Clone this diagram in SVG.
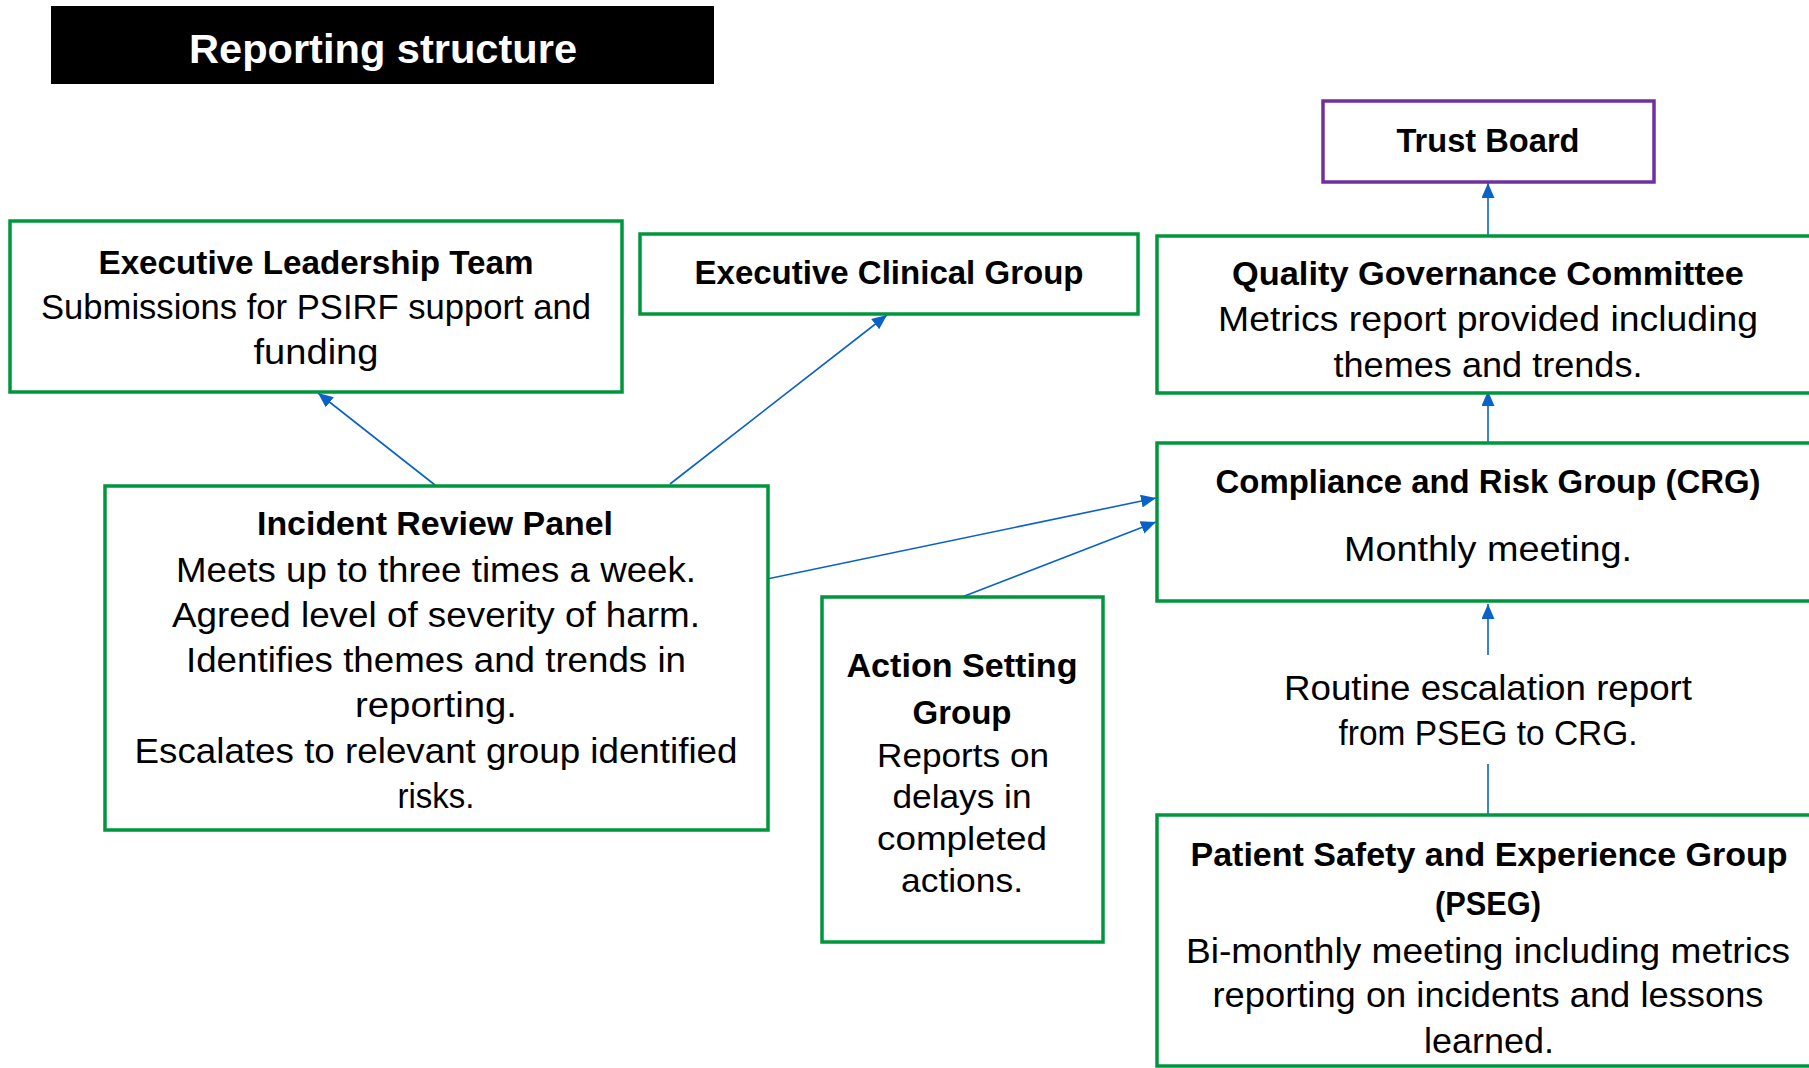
<svg xmlns="http://www.w3.org/2000/svg" width="1809" height="1068" viewBox="0 0 1809 1068">
<style>
.box{fill:#fff;stroke:#00963C;stroke-width:3.5}
.tb{fill:#fff;stroke:#7030A0;stroke-width:3.5}
.t{font-family:"Liberation Sans",Arial,sans-serif;font-size:35px;fill:#000;text-anchor:middle}
.b{font-weight:bold;font-size:34px}
.s{font-size:33px}
.c{stroke:#0A62C8;stroke-width:1.6;fill:none}
.h{font-family:"Liberation Sans",Arial,sans-serif;font-weight:bold;font-size:40px;fill:#fff;text-anchor:middle}
</style>
<defs>
<marker id="ah" markerUnits="userSpaceOnUse" markerWidth="16" markerHeight="14" refX="15" refY="6.5" orient="auto">
<path d="M0,0 L15,6.5 L0,13 z" fill="#0A62C8"/>
</marker>
</defs>
<rect width="1809" height="1068" fill="#fff"/>
<g id="title">
<rect x="51" y="6" width="663" height="78" fill="#000"/>
<text class="h" x="383" y="63" textLength="388" lengthAdjust="spacingAndGlyphs">Reporting structure</text>
</g>
<g id="connectors">
<line class="c" x1="435" y1="485" x2="318" y2="393" marker-end="url(#ah)"/>
<line class="c" x1="670" y1="484" x2="887" y2="315" marker-end="url(#ah)"/>
<line class="c" x1="767" y1="579" x2="1156" y2="498" marker-end="url(#ah)"/>
<line class="c" x1="962" y1="597" x2="1156" y2="522" marker-end="url(#ah)"/>
<line class="c" x1="1488" y1="236" x2="1488" y2="183" marker-end="url(#ah)"/>
<line class="c" x1="1488" y1="443" x2="1488" y2="391" marker-end="url(#ah)"/>
<line class="c" x1="1488" y1="655" x2="1488" y2="604" marker-end="url(#ah)"/>
<line class="c" x1="1488" y1="764" x2="1488" y2="814"/>
</g>
<g id="elt">
<rect class="box" x="10" y="221" width="612" height="171"/>
<text class="t b" x="316" y="274" textLength="435" lengthAdjust="spacingAndGlyphs">Executive Leadership Team</text>
<text class="t" x="316" y="319" textLength="550" lengthAdjust="spacingAndGlyphs">Submissions for PSIRF support and</text>
<text class="t" x="316" y="364" textLength="125" lengthAdjust="spacingAndGlyphs">funding</text>
</g>
<g id="ecg">
<rect class="box" x="640" y="234" width="498" height="80"/>
<text class="t b" x="889" y="284" textLength="389" lengthAdjust="spacingAndGlyphs">Executive Clinical Group</text>
</g>
<g id="trust-board">
<rect class="tb" x="1323" y="101" width="331" height="81"/>
<text class="t b" x="1488" y="152" textLength="183" lengthAdjust="spacingAndGlyphs">Trust Board</text>
</g>
<g id="qgc">
<rect class="box" x="1157" y="236" width="700" height="157"/>
<text class="t b" x="1488" y="285" textLength="512" lengthAdjust="spacingAndGlyphs">Quality Governance Committee</text>
<text class="t" x="1488" y="331" textLength="540" lengthAdjust="spacingAndGlyphs">Metrics report provided including</text>
<text class="t" x="1488" y="377" textLength="309" lengthAdjust="spacingAndGlyphs">themes and trends.</text>
</g>
<g id="crg">
<rect class="box" x="1157" y="443" width="700" height="158"/>
<text class="t b" x="1488" y="493" textLength="545" lengthAdjust="spacingAndGlyphs">Compliance and Risk Group (CRG)</text>
<text class="t" x="1488" y="561" textLength="288" lengthAdjust="spacingAndGlyphs">Monthly meeting.</text>
</g>
<g id="routine-label">
<text class="t" x="1488" y="700" textLength="408" lengthAdjust="spacingAndGlyphs">Routine escalation report</text>
<text class="t" x="1488" y="745" textLength="299" lengthAdjust="spacingAndGlyphs">from PSEG to CRG.</text>
</g>
<g id="pseg">
<rect class="box" x="1157" y="815" width="700" height="251"/>
<text class="t b" x="1489" y="866" textLength="597" lengthAdjust="spacingAndGlyphs">Patient Safety and Experience Group</text>
<text class="t b" x="1488" y="915" textLength="106" lengthAdjust="spacingAndGlyphs">(PSEG)</text>
<text class="t" x="1488" y="963" textLength="604" lengthAdjust="spacingAndGlyphs">Bi-monthly meeting including metrics</text>
<text class="t" x="1488" y="1007" textLength="551" lengthAdjust="spacingAndGlyphs">reporting on incidents and lessons</text>
<text class="t" x="1489" y="1053" textLength="130" lengthAdjust="spacingAndGlyphs">learned.</text>
</g>
<g id="irp">
<rect class="box" x="105" y="486" width="663" height="344"/>
<text class="t b" x="435" y="535" textLength="356" lengthAdjust="spacingAndGlyphs">Incident Review Panel</text>
<text class="t" x="436" y="582" textLength="520" lengthAdjust="spacingAndGlyphs">Meets up to three times a week.</text>
<text class="t" x="436" y="627" textLength="528" lengthAdjust="spacingAndGlyphs">Agreed level of severity of harm.</text>
<text class="t" x="436" y="672" textLength="500" lengthAdjust="spacingAndGlyphs">Identifies themes and trends in</text>
<text class="t" x="436" y="717" textLength="162" lengthAdjust="spacingAndGlyphs">reporting.</text>
<text class="t" x="436" y="763" textLength="603" lengthAdjust="spacingAndGlyphs">Escalates to relevant group identified</text>
<text class="t" x="436" y="808" textLength="77" lengthAdjust="spacingAndGlyphs">risks.</text>
</g>
<g id="asg">
<rect class="box" x="822" y="597" width="281" height="345"/>
<text class="t b s" x="962" y="677" textLength="231" lengthAdjust="spacingAndGlyphs">Action Setting</text>
<text class="t b s" x="962" y="724" textLength="99" lengthAdjust="spacingAndGlyphs">Group</text>
<text class="t s" x="963" y="767" textLength="172" lengthAdjust="spacingAndGlyphs">Reports on</text>
<text class="t s" x="962" y="808" textLength="139" lengthAdjust="spacingAndGlyphs">delays in</text>
<text class="t s" x="962" y="850" textLength="170" lengthAdjust="spacingAndGlyphs">completed</text>
<text class="t s" x="962" y="892" textLength="122" lengthAdjust="spacingAndGlyphs">actions.</text>
</g>
</svg>
